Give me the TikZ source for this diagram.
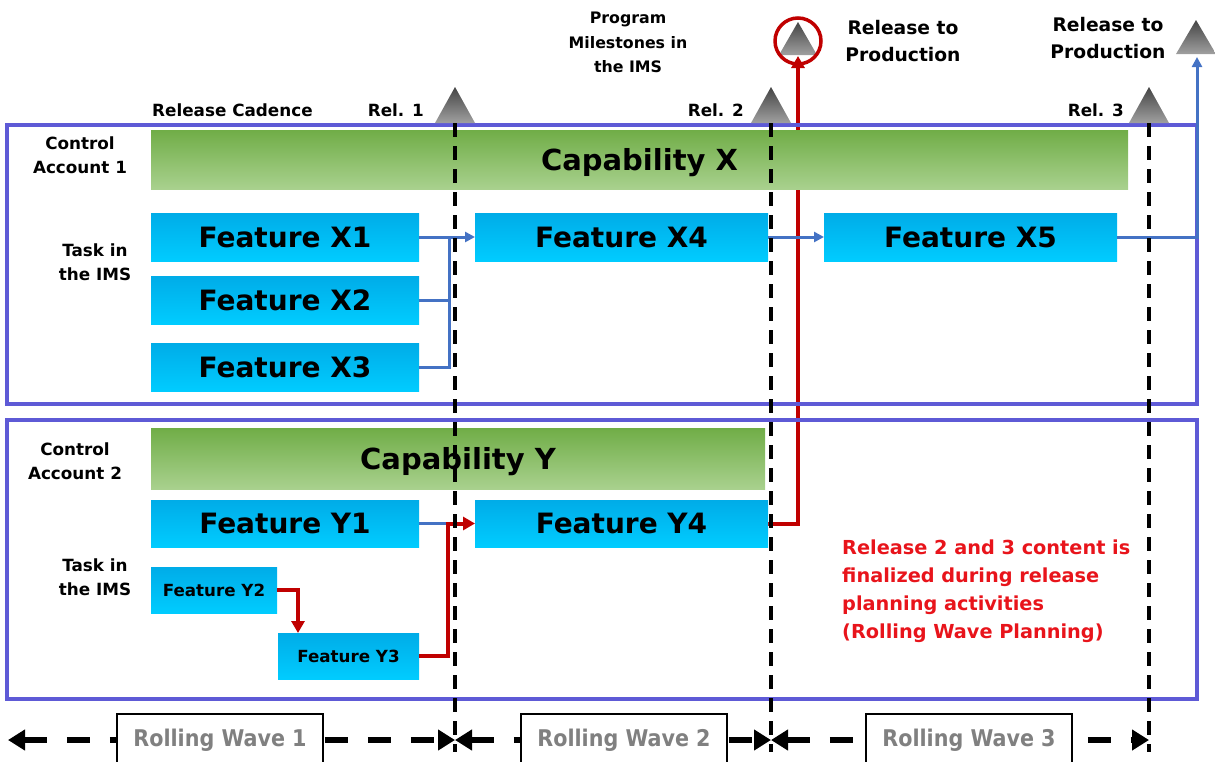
\documentclass[tikz,border=0pt]{standalone}
\usepackage{fontspec}
\setmainfont{DejaVu Sans}
\newfontfamily\condfont{DejaVu Sans Condensed}
\usetikzlibrary{arrows.meta}

\definecolor{caline}{RGB}{94,90,214}
\definecolor{grnTop}{RGB}{112,173,71}
\definecolor{grnBot}{RGB}{169,209,142}
\definecolor{bluTop}{RGB}{0,172,232}
\definecolor{bluBot}{RGB}{0,204,255}
\definecolor{lnBlue}{RGB}{68,114,196}
\definecolor{lnRed}{RGB}{192,0,0}
\definecolor{txtRed}{RGB}{232,20,27}
\definecolor{waveGray}{RGB}{128,128,128}
\definecolor{msTop}{RGB}{68,68,68}
\definecolor{msBot}{RGB}{160,160,160}

\newcommand\fsz[2]{\fontsize{#1}{#2}\selectfont}

\pgfdeclarelayer{back}
\pgfsetlayers{back,main}

\tikzset{
  account/.style={draw=caline, line width=4pt},
  bar/.style={inner sep=0pt, outer sep=0pt, draw=none, text depth=0pt},
  capbar/.style={bar, top color=grnTop, middle color=grnTop, bottom color=grnBot,
    font=\fsz{29}{34}\bfseries},
  featbar/.style={bar, top color=bluTop, bottom color=bluBot,
    font=\fsz{28}{32}\bfseries},
  smallfeat/.style={featbar, font=\fsz{16.7}{20}\bfseries},
  lbl/.style={inner sep=0pt, align=center, font=\fsz{16.8}{24}\bfseries},
  toplbl/.style={inner sep=0pt, align=center, font=\fsz{18.7}{27}\bfseries},
  msnote/.style={inner sep=0pt, align=center, font=\fsz{15.8}{24.5}\bfseries},
  note/.style={inner sep=0pt, align=left, text=txtRed, font=\fsz{19.3}{28}\bfseries},
  milestone/.style={top color=msTop, bottom color=msBot},
  bluelink/.style={draw=lnBlue, line width=3pt, -{Triangle[length=10pt,width=10pt]}},
  blueline/.style={draw=lnBlue, line width=3pt},
  redlink/.style={draw=lnRed, line width=4pt, -{Triangle[length=12pt,width=13pt]}},
  releaseline/.style={black, line width=3.2pt, dash pattern=on 14pt off 9pt},
  wave/.style={black, line width=6pt, dash pattern=on 23pt off 20pt,
    {Triangle[length=17pt,width=20pt]}-{Triangle[length=17pt,width=20pt]}},
  waveframe/.style={draw=black, fill=white, line width=2pt, inner sep=0pt,
    minimum width=206pt, minimum height=64pt, anchor=north},
  wavetext/.style={inner sep=0pt, text=waveGray, font=\condfont\fsz{23}{26}\bfseries},
}

\begin{document}
\begin{tikzpicture}[x=1pt, y=-1pt]
\useasboundingbox (0,0) rectangle (1215,761);

% control account frames
\draw[account] (7,125) rectangle (1197,404);
\draw[account] (7,420) rectangle (1197,699);

% release milestones on the cadence line
\shade[milestone] (455,87) -- (475,123) -- (435,123) -- cycle;
\shade[milestone] (771,87) -- (791,123) -- (751,123) -- cycle;
\shade[milestone] (1149,87) -- (1169,123) -- (1129,123) -- cycle;
\coordinate (r1) at (455,123);
\coordinate (r2) at (771,123);
\coordinate (r3) at (1149,123);

% release-to-production milestones
\shade[milestone] (798,22) -- (817,55) -- (779,55) -- cycle;
\node[draw=lnRed, line width=3.5pt, circle, minimum size=46pt, inner sep=0pt] (prod2) at (798,41) {};
\coordinate (p2) at (798,56);
\shade[milestone] (1196,20) -- (1216,54) -- (1176,54) -- cycle;
\coordinate (p3) at (1197,57);

% capabilities and features
\node[capbar, minimum width=977pt, minimum height=59pt] (capx) at (639.5,159.5) {Capability X};
\node[featbar, minimum width=268pt, minimum height=48pt] (x1) at (285,237) {Feature X1};
\node[featbar, minimum width=268pt, minimum height=48pt] (x2) at (285,300) {Feature X2};
\node[featbar, minimum width=268pt, minimum height=48pt] (x3) at (285,367) {Feature X3};
\node[featbar, minimum width=293pt, minimum height=48pt] (x4) at (621.5,237) {Feature X4};
\node[featbar, minimum width=293pt, minimum height=48pt] (x5) at (970.5,237) {Feature X5};

\node[capbar, minimum width=614pt, minimum height=61pt] (capy) at (458,458.5) {Capability Y};
\node[featbar, minimum width=268pt, minimum height=47pt] (y1) at (285,523.5) {Feature Y1};
\node[featbar, minimum width=293pt, minimum height=47pt] (y4) at (621.5,523.5) {Feature Y4};
\node[smallfeat, minimum width=126pt, minimum height=46pt] (y2) at (214,590) {Feature Y2};
\node[smallfeat, minimum width=141pt, minimum height=46pt] (y3) at (348.5,656) {Feature Y3};

% dependency links
\coordinate (jx) at (449,237);
\coordinate (jy) at (448,523.5);
\draw[blueline] (x2.east) -| (jx);
\draw[blueline] (x3.east) -| (jx);
\draw[bluelink] (x1.east) -- (x4.west);
\draw[bluelink] (x4.east) -- (x5.west);
\draw[bluelink] (x5.east) -| (p3);
\draw[blueline] (y1.east) -- (jy);
\draw[redlink] (y2.east) -| ([xshift=20pt]y3.north west);
\draw[redlink] (y3.east) -| (jy) -- (y4.west);
\begin{pgfonlayer}{back}
  \draw[redlink] (y4.east) -| (p2);
\end{pgfonlayer}

% release boundaries
\coordinate (b1) at (455,752);
\coordinate (b2) at (771,752);
\coordinate (b3) at (1149,752);
\draw[releaseline] (r1) -- (b1);
\draw[releaseline] (r2) -- (b2);
\draw[releaseline] (r3) -- (b3);

% labels
\node[msnote] (msl) at (628,42.5) {Program\\Milestones in\\the IMS};
\node[toplbl] (rp2) at (903,41.5) {Release to\\Production};
\node[toplbl] (rp3) at (1108,38) {Release to\\Production};
\node[lbl, anchor=west] (cad) at (152,110) {Release Cadence};
\node[lbl, anchor=east] (rl1) at (424,110) {Rel. 1};
\node[lbl, anchor=east] (rl2) at (744,110) {Rel. 2};
\node[lbl, anchor=east] (rl3) at (1124,110) {Rel. 3};
\node[lbl] (ca1) at (80,155) {Control\\Account 1};
\node[lbl] (t1) at (95,262) {Task in\\the IMS};
\node[lbl] (ca2) at (75,461) {Control\\Account 2};
\node[lbl] (t2) at (95,577.5) {Task in\\the IMS};
\node[note, anchor=west] (rwnote) at (842,591) {Release 2 and 3 content is\\finalized during release\\planning activities\\(Rolling Wave Planning)};

% rolling waves
\coordinate (w0) at (8,740);
\coordinate (w1) at (455,740);
\coordinate (w2) at (771,740);
\coordinate (w3) at (1149,740);
\draw[wave] (w0) -- (w1);
\draw[wave] (w1) -- (w2);
\draw[wave] (w2) -- (w3);
\node[waveframe] (rw1) at (220,713) {};
\node[waveframe] (rw2) at (624,713) {};
\node[waveframe] (rw3) at (969,713) {};
\node[wavetext] (rw1t) at (220,740) {Rolling Wave 1};
\node[wavetext] (rw2t) at (624,740) {Rolling Wave 2};
\node[wavetext] (rw3t) at (969,740) {Rolling Wave 3};
\end{tikzpicture}
\end{document}
